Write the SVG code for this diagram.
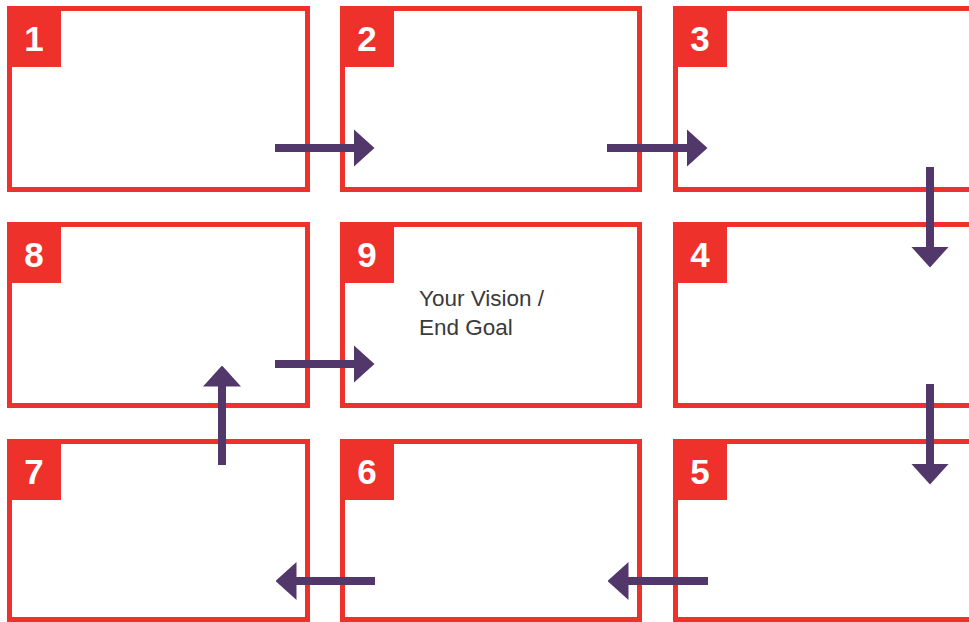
<svg xmlns="http://www.w3.org/2000/svg" width="969" height="622" viewBox="0 0 969 622">
<style>
.box{fill:#fff;stroke:#ee312b;stroke-width:5}
.badge{fill:#ee312b}
.num{font-family:"Liberation Sans",Arial,sans-serif;font-weight:bold;font-size:35px;fill:#fff;text-anchor:middle}
.lbl{font-family:"Liberation Sans",Arial,sans-serif;font-size:22.5px;fill:#3a3a3a}
.arr{stroke:#51376a;stroke-width:8;fill:none;marker-end:url(#head)}
</style>
<defs>
<marker id="head" markerUnits="userSpaceOnUse" viewBox="0 0 21 38" markerWidth="21" markerHeight="38" refX="0.5" refY="19" orient="auto">
<path d="M0,0 L21,19 L0,38 z" fill="#51376a"/>
</marker>
</defs>
<rect width="969" height="622" fill="#fff"/>
<g id="node1"><rect class="box" x="9.5" y="8.5" width="298" height="181"/><rect class="badge" x="7" y="6" width="54" height="61"/><text class="num" x="34" y="51">1</text></g>
<g id="node2"><rect class="box" x="342.5" y="8.5" width="297" height="181"/><rect class="badge" x="340" y="6" width="54" height="61"/><text class="num" x="367" y="51">2</text></g>
<g id="node3"><rect class="box" x="675.5" y="8.5" width="300" height="181"/><rect class="badge" x="673" y="6" width="54" height="61"/><text class="num" x="700" y="51">3</text></g>
<g id="node8"><rect class="box" x="9.5" y="224.5" width="298" height="181"/><rect class="badge" x="7" y="222" width="54" height="61"/><text class="num" x="34" y="267">8</text></g>
<g id="node9"><rect class="box" x="342.5" y="224.5" width="297" height="181"/><rect class="badge" x="340" y="222" width="54" height="61"/><text class="num" x="367" y="267">9</text><text class="lbl" x="419" y="306">Your Vision /</text><text class="lbl" x="419" y="335">End Goal</text></g>
<g id="node4"><rect class="box" x="675.5" y="224.5" width="300" height="181"/><rect class="badge" x="673" y="222" width="54" height="61"/><text class="num" x="700" y="267">4</text></g>
<g id="node7"><rect class="box" x="9.5" y="441.5" width="298" height="178"/><rect class="badge" x="7" y="439" width="54" height="61"/><text class="num" x="34" y="484">7</text></g>
<g id="node6"><rect class="box" x="342.5" y="441.5" width="297" height="178"/><rect class="badge" x="340" y="439" width="54" height="61"/><text class="num" x="367" y="484">6</text></g>
<g id="node5"><rect class="box" x="675.5" y="441.5" width="300" height="178"/><rect class="badge" x="673" y="439" width="54" height="61"/><text class="num" x="700" y="484">5</text></g>
<g id="connectors">
<line class="arr" x1="275" y1="148" x2="354" y2="148"/>
<line class="arr" x1="607" y1="148" x2="687" y2="148"/>
<line class="arr" x1="930" y1="167" x2="930" y2="247"/>
<line class="arr" x1="930" y1="384" x2="930" y2="464"/>
<line class="arr" x1="708" y1="581" x2="628" y2="581"/>
<line class="arr" x1="375" y1="581" x2="296" y2="581"/>
<line class="arr" x1="222" y1="465" x2="222" y2="386"/>
<line class="arr" x1="275" y1="364" x2="354" y2="364"/>
</g>
</svg>
